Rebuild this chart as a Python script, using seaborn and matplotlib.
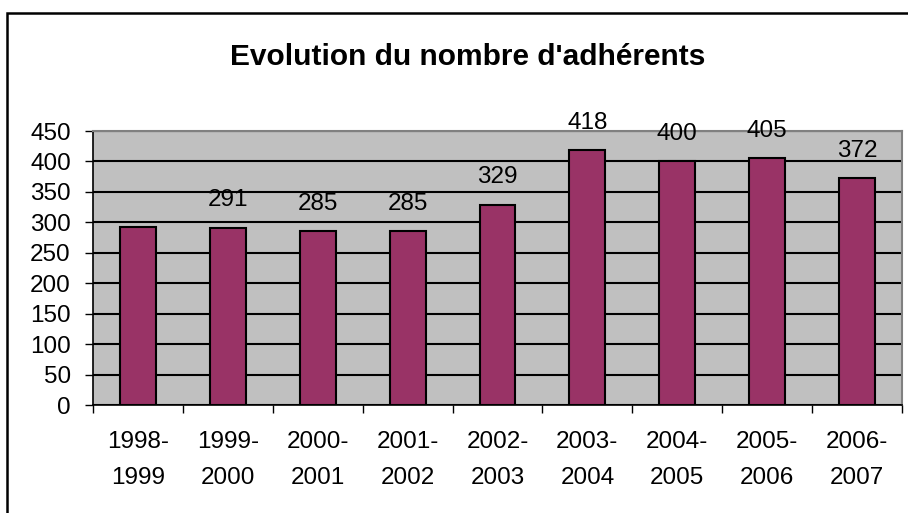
import matplotlib
matplotlib.use('Agg')
import matplotlib.pyplot as plt
import seaborn as sns
from matplotlib.patches import Rectangle

# données
periodes = ['1998-\n1999', '1999-\n2000', '2000-\n2001', '2001-\n2002', '2002-\n2003',
            '2003-\n2004', '2004-\n2005', '2005-\n2006', '2006-\n2007']
adherents = [292, 291, 285, 285, 329, 418, 400, 405, 372]
etiquettes = ['', '291', '285', '285', '329', '418', '400', '405', '372']
titre = "Evolution du nombre d'adhérents"
yticks = [0, 50, 100, 150, 200, 250, 300, 350, 400, 450]

sns.set_style('white')
plt.rcParams['font.family'] = ['Liberation Sans', 'DejaVu Sans']
plt.rcParams['text.color'] = 'black'
plt.rcParams['xtick.color'] = 'black'
plt.rcParams['ytick.color'] = 'black'
plt.rcParams['xtick.labelcolor'] = 'black'
plt.rcParams['ytick.labelcolor'] = 'black'

fig = plt.figure(figsize=(9.08, 5.13), dpi=100)
ax = fig.add_axes([93 / 908, 1 - 405 / 513, (902 - 93) / 908, (405 - 131) / 513])
ax.set_facecolor('#C0C0C0')

sns.barplot(x=periodes, y=adherents, color='#993366', edgecolor='black',
            linewidth=1.5, width=0.4, saturation=1, ax=ax, zorder=3)

for i, (v, t) in enumerate(zip(adherents, etiquettes)):
    ax.annotate(t, (i, v), xytext=(0, 20), textcoords='offset points',
                ha='center', va='center', fontsize=17.5, color='black')

ax.set_ylim(0, 450)
ax.set_xlim(-0.5, len(periodes) - 0.5)
ax.set_yticks(yticks)
ax.set_yticklabels([str(t) for t in yticks], fontsize=17.5)
ax.yaxis.grid(True, color='black', linewidth=1.5, zorder=1)
ax.set_axisbelow(True)

# ticks aux frontières des catégories, étiquettes au centre
ax.set_xticks([i - 0.5 for i in range(len(periodes) + 1)])
ax.set_xticklabels([])
ax.set_xticks(range(len(periodes)), minor=True)
ax.set_xticklabels(periodes, minor=True, fontsize=17.5, linespacing=1.8)
ax.tick_params(axis='x', which='major', direction='out', length=6, width=1, bottom=True)
ax.tick_params(axis='x', which='minor', length=0, pad=19)
ax.tick_params(axis='y', direction='out', length=6, width=1, left=True, pad=10)
ax.set_xlabel('')
ax.set_ylabel('')

for s in ['left', 'bottom']:
    ax.spines[s].set_color('black')
    ax.spines[s].set_linewidth(1.2)
for s in ['top', 'right']:
    ax.spines[s].set_color('#808080')
    ax.spines[s].set_linewidth(1.5)

fig.text(468 / 908, 1 - 57 / 513, titre, ha='center', va='center',
         fontsize=21.5, fontweight='bold')

# cadre du graphique
fig.patches.append(Rectangle((7 / 908, -0.05), 1.0, 1 - 13 / 513 + 0.05,
                             transform=fig.transFigure, fill=False,
                             edgecolor='black', linewidth=1.8))

fig.savefig('out.png', dpi=100)
